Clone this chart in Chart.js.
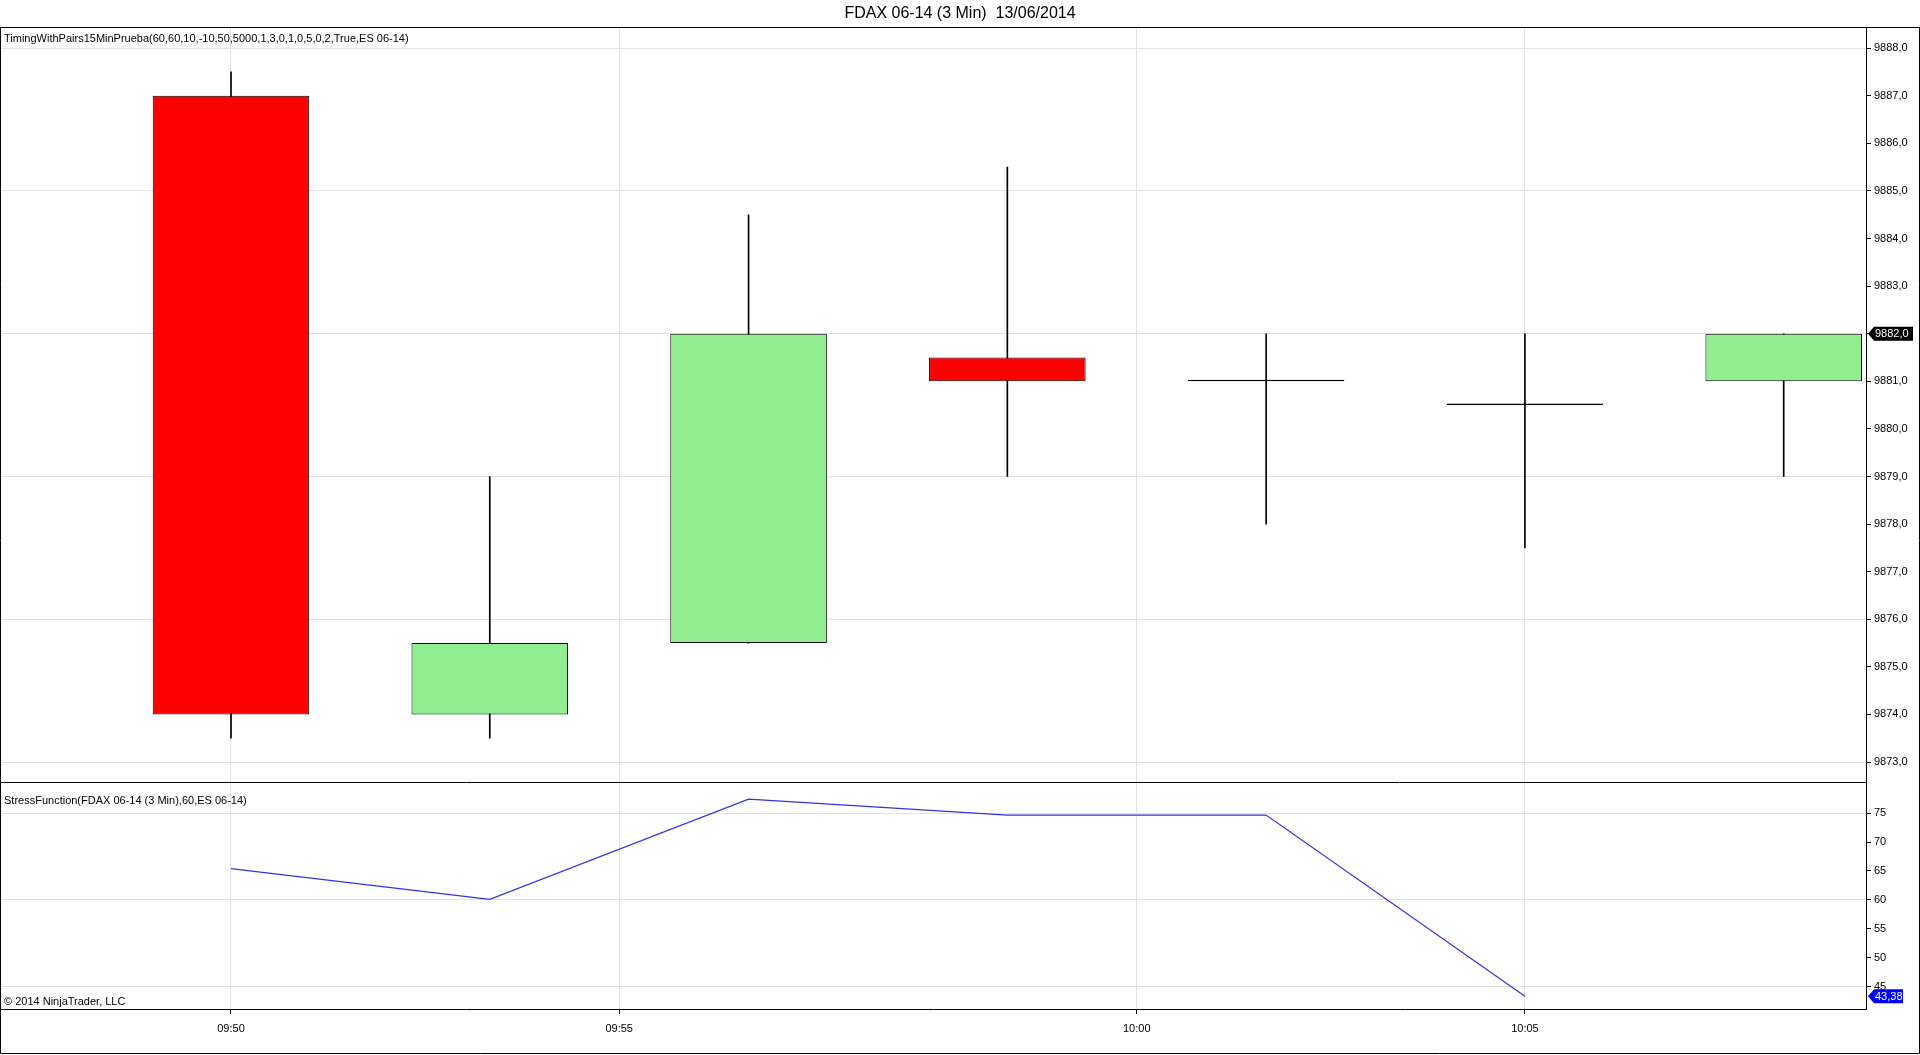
<!DOCTYPE html>
<html>
<head>
<meta charset="utf-8">
<script src="https://cdn.jsdelivr.net/npm/chart.js@4.4.1/dist/chart.umd.min.js"></script>
<style>
  html, body { margin: 0; padding: 0; background: #fff; }
  #wrap { width: 1920px; height: 1055px; }
</style>
</head>
<body>
<div id="wrap"><canvas id="myChart"></canvas></div>
<script>
// 3 min bars, by index on the x axis
const bars = [0, 1, 2, 3, 4, 5, 6];
const open  = [9887.0, 9874.0, 9875.5, 9881.5, 9881.0, 9880.5, 9881.0];
const high  = [9887.5, 9879.0, 9884.5, 9885.5, 9882.0, 9882.0, 9882.0];
const low   = [9873.5, 9873.5, 9875.5, 9879.0, 9878.0, 9877.5, 9879.0];
const close = [9874.0, 9875.5, 9882.0, 9881.0, 9881.0, 9880.5, 9882.0];

// StressFunction indicator (no value on the last bar)
const stress = [65.4, 60.1, 77.4, 74.65, 74.65, 43.38, null];

// tick labels
const timeTicks = [0, 1.5, 3.5, 5];
const timeLabels = ["09:50", "09:55", "10:00", "10:05"];
const priceTicks = [9873, 9874, 9875, 9876, 9877, 9878, 9879, 9880, 9881, 9882, 9883, 9884, 9885, 9886, 9887, 9888];
const stressTicks = [45, 50, 55, 60, 65, 70, 75];

const FONT = "'Liberation Sans', Arial, sans-serif";
const GRID = "#e2e2e2";

function bodyColor(i) {
    if (close[i] > open[i]) return "#90ee90";
    if (close[i] < open[i]) return "#ff0000";
    return "#000000";
}

function lastValue(arr) {
    for (let i = arr.length - 1; i >= 0; i--) {
        if (arr[i] !== null) return arr[i];
    }
    return null;
}

// texts, frame and last value markers
const overlay = {
    id: "overlay",
    afterDraw(chart) {
        const ctx = chart.ctx;
        const area = chart.chartArea;
        const y = chart.scales.y;
        const y2 = chart.scales.y2;
        ctx.save();
        ctx.strokeStyle = "#000";
        ctx.lineWidth = 1;
        ctx.beginPath();
        ctx.moveTo(0, Math.round(area.top) + 0.5);
        ctx.lineTo(chart.width, Math.round(area.top) + 0.5);
        ctx.moveTo(0.5, area.top);
        ctx.lineTo(0.5, chart.height - 1.5);
        ctx.lineTo(chart.width - 0.5, chart.height - 1.5);
        ctx.lineTo(chart.width - 0.5, area.top);
        ctx.moveTo(area.left, Math.round(y.bottom) + 0.5);
        ctx.lineTo(area.right, Math.round(y.bottom) + 0.5);
        ctx.stroke();

        ctx.fillStyle = "#000";
        ctx.font = "11px " + FONT;
        ctx.textBaseline = "middle";
        ctx.textAlign = "left";
        ctx.fillText("TimingWithPairs15MinPrueba(60,60,10,-10,50,5000,1,3,0,1,0,5,0,2,True,ES 06-14)", 4, area.top + 12);
        ctx.fillText("StressFunction(FDAX 06-14 (3 Min),60,ES 06-14)", 4, y2.top + 19);
        ctx.fillText("\u00a9 2014 NinjaTrader, LLC", 4, y2.bottom - 7);

        const marker = (yPix, text, bg, w) => {
            const x0 = area.right + 2;
            ctx.beginPath();
            ctx.moveTo(x0, yPix);
            ctx.lineTo(x0 + 6, yPix - 7);
            ctx.lineTo(x0 + w, yPix - 7);
            ctx.lineTo(x0 + w, yPix + 7);
            ctx.lineTo(x0 + 6, yPix + 7);
            ctx.closePath();
            ctx.fillStyle = bg;
            ctx.fill();
            ctx.fillStyle = "#fff";
            ctx.font = "11px " + FONT;
            ctx.fillText(text, x0 + 7, yPix + 0.5);
        };
        const lastClose = close[close.length - 1];
        marker(y.getPixelForValue(lastClose), lastClose.toFixed(1).replace(".", ","), "#000", 45);
        const lastStress = lastValue(stress);
        marker(y2.getPixelForValue(lastStress), lastStress.toFixed(2).replace(".", ","), "#0000ff", 35);
        ctx.restore();
    }
};

const data = {
    datasets: [
        {
            type: "line",
            label: "StressFunction",
            data: bars.map(i => ({ x: i, y: stress[i] })),
            borderColor: "#3232ea",
            borderWidth: 1.2,
            pointRadius: 0,
            tension: 0,
            yAxisID: "y2",
            order: 0,
        },
        {
            type: "bar",
            label: "body",
            data: bars.map(i => ({ x: i, y: [open[i], close[i]] })),
            backgroundColor: bars.map(bodyColor),
            borderColor: "#000",
            borderWidth: 1,
            borderSkipped: false,
            minBarLength: 1.5,
            grouped: false,
            categoryPercentage: 1,
            barPercentage: 0.605,
            yAxisID: "y",
            order: 1,
        },
        {
            type: "bar",
            label: "wick",
            data: bars.map(i => ({ x: i, y: [low[i], high[i]] })),
            backgroundColor: "#000",
            borderWidth: 0,
            barThickness: 1,
            grouped: false,
            yAxisID: "y",
            order: 2,
        },
    ],
};

const tickFont = { family: FONT, size: 11 };

const config = {
    type: "bar",
    data: data,
    plugins: [overlay],
    options: {
        responsive: true,
        maintainAspectRatio: false,
        animation: false,
        layout: { padding: { left: 0, right: 0, top: 0, bottom: 2 } },
        plugins: {
            legend: { display: false },
            tooltip: { enabled: false },
            title: {
                display: true,
                text: "FDAX 06-14 (3 Min)  13/06/2014",
                color: "#000",
                font: { family: FONT, size: 16, weight: "normal" },
                padding: { top: 4, bottom: 4 },
            },
        },
        scales: {
            x: {
                type: "linear",
                min: -0.8926,
                max: 6.318,
                offset: false,
                afterBuildTicks: s => { s.ticks = timeTicks.map(v => ({ value: v })); },
                afterFit: s => { s.height = 44; },
                ticks: {
                    callback: (v, i) => timeLabels[i],
                    color: "#000",
                    font: tickFont,
                    padding: 8,
                    maxRotation: 0,
                    autoSkip: false,
                },
                grid: { color: GRID, tickColor: "#000", tickLength: 5, offset: false },
                border: { color: "#000", width: 1 },
            },
            y: {
                type: "linear",
                position: "right",
                stack: "panes",
                stackWeight: 755,
                min: 9872.58,
                max: 9888.44,
                afterBuildTicks: s => { s.ticks = priceTicks.map(v => ({ value: v })); },
                afterFit: s => { s.width = 54; },
                ticks: {
                    callback: v => v.toFixed(1).replace(".", ","),
                    color: "#000",
                    font: tickFont,
                    padding: 3,
                },
                grid: {
                    color: c => (c.tick && c.tick.value % 3 === 0 ? GRID : "rgba(0,0,0,0)"),
                    tickColor: "#000",
                    tickLength: 5,
                },
                border: { color: "#000", width: 1 },
            },
            y2: {
                type: "linear",
                position: "right",
                stack: "panes",
                stackWeight: 227,
                min: 41.2,
                max: 80.34,
                afterBuildTicks: s => { s.ticks = stressTicks.map(v => ({ value: v })); },
                afterFit: s => { s.width = 54; },
                ticks: {
                    callback: v => String(v),
                    color: "#000",
                    font: tickFont,
                    padding: 3,
                },
                grid: {
                    color: c => (c.tick && c.tick.value % 15 === 0 ? GRID : "rgba(0,0,0,0)"),
                    tickColor: "#000",
                    tickLength: 5,
                },
                border: { color: "#000", width: 1 },
            },
        },
    },
};

const myChart = new Chart(document.getElementById("myChart"), config);
</script>
</body>
</html>
